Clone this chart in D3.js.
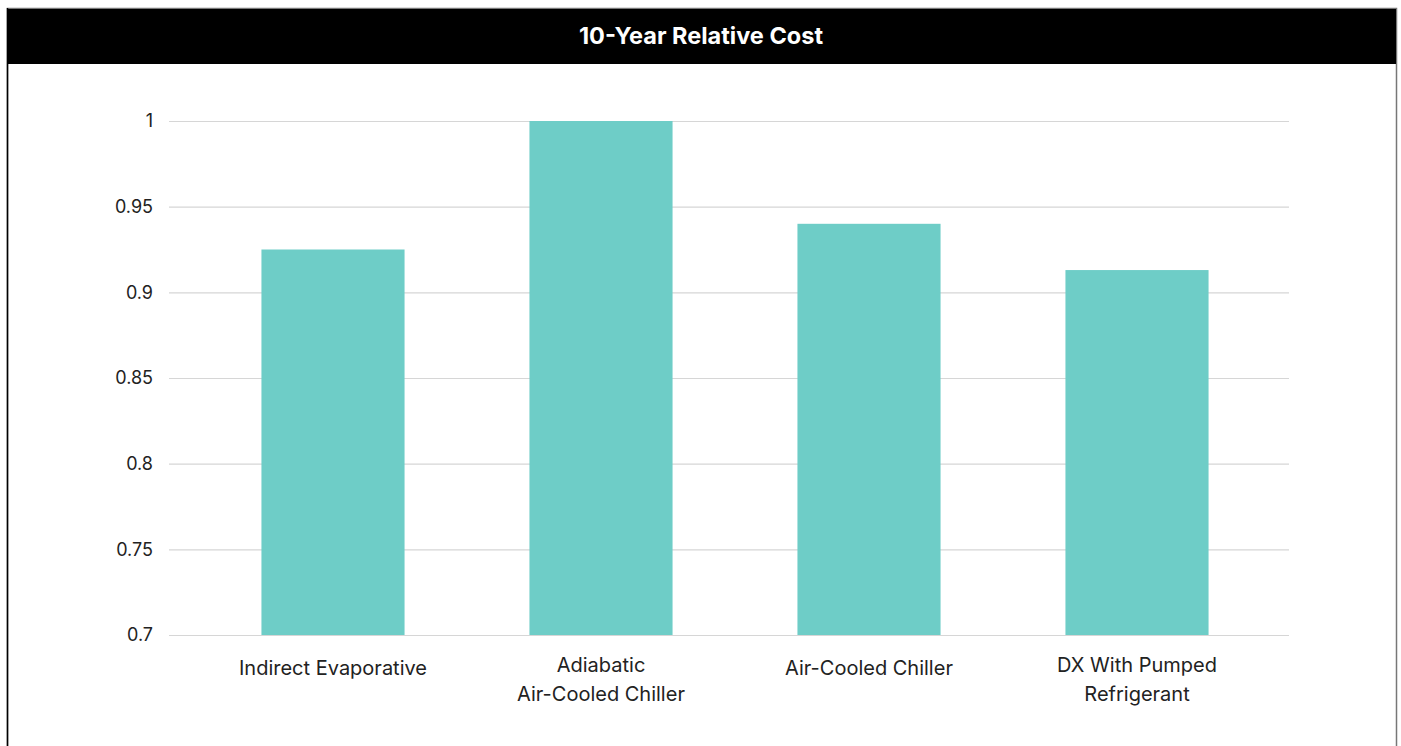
<!DOCTYPE html>
<html>
<head>
<meta charset="utf-8">
<script src="https://cdn.jsdelivr.net/npm/d3@7"></script>
<style>
    body { margin: 0; background: #fff; }
    svg { display: block; font-family: "Inter", "Roboto", sans-serif; }
</style>
</head>
<body>
<div id="chart"></div>
<script>
    // chart data
    const categories = ["Indirect Evaporative", "Adiabatic\nAir-Cooled Chiller", "Air-Cooled Chiller", "DX With Pumped\nRefrigerant"]
    const values = [0.925, 1.0, 0.940, 0.913]
    const yTicks = [0.7, 0.75, 0.8, 0.85, 0.9, 0.95, 1]
    const title = "10-Year Relative Cost"

    const W = 1401, H = 746

    const svg = d3.select("#chart").append("svg")
        .attr("width", W)
        .attr("height", H)

    // frame
    svg.append("rect")
        .attr("x", 7.5).attr("y", 8.5)
        .attr("width", 1389).attr("height", H)
        .attr("fill", "none")
        .attr("stroke", "#777")
        .attr("stroke-width", 1.5)
    svg.append("line")
        .attr("x1", 7.5).attr("x2", 7.5)
        .attr("y1", 8).attr("y2", H)
        .attr("stroke", "#000")
        .attr("stroke-width", 1.5)

    // header bar
    svg.append("rect")
        .attr("x", 7).attr("y", 9)
        .attr("width", 1389).attr("height", 55)
        .attr("fill", "#000")
    svg.append("text")
        .attr("x", 701).attr("y", 44)
        .attr("text-anchor", "middle")
        .attr("fill", "#fff")
        .attr("font-size", 23.5)
        .attr("font-weight", 700)
        .text(title)

    const y = d3.scaleLinear()
        .domain([0.7, 1])
        .range([635, 121])

    const x = d3.scaleBand()
        .domain(categories)
        .range([199, 1271])
        .paddingInner(0.466)
        .paddingOuter(0.233)

    // grid + y labels
    const yAxis = svg.append("g")
        .attr("transform", "translate(169,0)")
        .call(d3.axisLeft(y).tickValues(yTicks).tickSize(-1120).tickPadding(16)
            .tickFormat(d => d3.format("")(+d.toFixed(2))))
    yAxis.select(".domain").remove()
    yAxis.selectAll(".tick line").attr("stroke", "#d6d6d6").attr("stroke-width", 1.2)
    yAxis.selectAll(".tick text")
        .attr("fill", "#222")
        .attr("font-size", 18)
        .attr("font-family", "Inter, Roboto, sans-serif")

    // bars
    svg.selectAll(".bar")
        .data(values)
        .join("rect")
        .attr("class", "bar")
        .attr("x", (d, i) => x(categories[i]))
        .attr("y", d => y(d))
        .attr("width", x.bandwidth())
        .attr("height", d => y(0.7) - y(d))
        .attr("fill", "#6ecdc7")

    // category labels
    const labels = svg.selectAll(".cat")
        .data(categories)
        .join("text")
        .attr("class", "cat")
        .attr("text-anchor", "middle")
        .attr("fill", "#222")
        .attr("font-size", 20)
        .attr("transform", d => `translate(${x(d) + x.bandwidth() / 2},0)`)

    labels.each(function (d) {
        const lines = d.split("\n")
        const base = lines.length > 1 ? 672 : 675
        d3.select(this).selectAll("tspan")
            .data(lines)
            .join("tspan")
            .attr("x", 0)
            .attr("y", (l, i) => base + i * 29)
            .text(l => l)
    })
</script>
</body>
</html>
